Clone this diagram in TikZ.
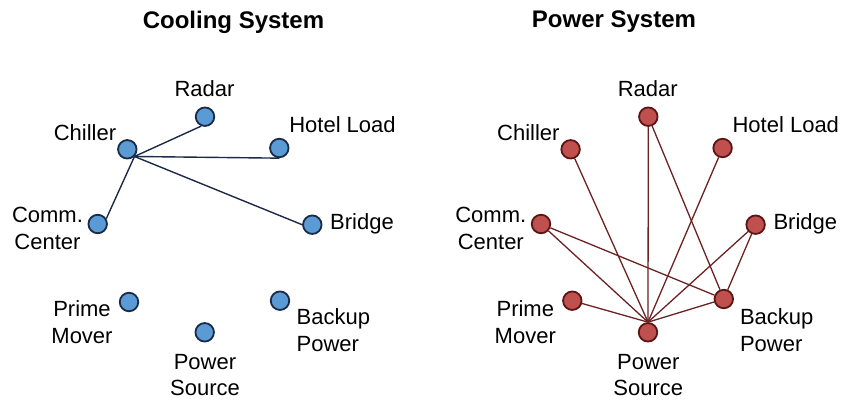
\documentclass[tikz,border=0pt]{standalone}
\usepackage{fontspec}
\setmainfont{Liberation Sans}
\definecolor{bluefill}{HTML}{5B9BD5}
\definecolor{blueedge}{HTML}{1B2A47}
\definecolor{redfill}{HTML}{C0504D}
\definecolor{rededge}{HTML}{5A1515}
\definecolor{redline}{HTML}{6B2222}
\begin{document}
\begin{tikzpicture}[x=1pt,y=-1pt,
  vtx/.style={circle,minimum size=18.5pt,inner sep=0pt,line width=1.8pt},
  bvtx/.style={vtx,draw=blueedge,fill=bluefill},
  rvtx/.style={vtx,draw=rededge,fill=redfill},
  lbl/.style={font=\fontsize{22}{26.5}\selectfont,align=center,inner sep=0pt},
  lbll/.style={lbl,align=left},
  ttl/.style={font=\fontsize{24}{28}\selectfont\bfseries,inner sep=0pt},
  bedge/.style={draw=blueedge,line width=1.4pt},
  redge/.style={draw=redline,line width=1.3pt}]
\useasboundingbox (0,0) rectangle (842,399);

% ---------- Cooling system ----------
\node[ttl] (t1) at (233.5,22) {Cooling System};
\begin{scope}
\node[bvtx] (ra) at (205,116.7) {};
\node[bvtx] (ch) at (127.3,149.3) {};
\node[bvtx] (ho) at (279.3,148) {};
\node[bvtx] (cc) at (97.7,224) {};
\node[bvtx] (br) at (312.3,224.7) {};
\node[bvtx] (pm) at (129,302) {};
\node[bvtx] (bp) at (280,300.7) {};
\node[bvtx] (ps) at (204.7,332.3) {};

\node[lbl] (lra) at (204.5,89) {Radar};
\node[lbl] (lch) at (85,132.5) {Chiller};
\node[lbl] (lho) at (342.5,125) {Hotel Load};
\node[lbl] (lcc) at (47.5,228.5) {Comm.\\Center};
\node[lbl,anchor=west] (lbr) at (330,223.5) {Bridge};
\node[lbl] (lpm) at (82,322) {Prime\\Mover};
\node[lbll,anchor=west] (lbp) at (296.5,330) {Backup\\Power};
\node[lbl] (lps) at (205,375) {Power\\Source};

\draw[bedge] (ch.-45) -- (ra.-112);
\draw[bedge] (ch.-45) -- (ho.south);
\draw[bedge] (ch.-45) -- (br.west);
\draw[bedge] (ch.-45) -- (cc.32);
\end{scope}

% ---------- Power system ----------
\node[ttl] (t2) at (614,22) {Power System};
\begin{scope}[xshift=443.3pt]
\node[rvtx] (ra2) at (205,116.7) {};
\node[rvtx] (ch2) at (127.3,149.3) {};
\node[rvtx] (ho2) at (279.3,148) {};
\node[rvtx] (cc2) at (97.7,224) {};
\node[rvtx] (br2) at (312.3,224.7) {};
\node[rvtx] (pm2) at (129,300.7) {};
\node[rvtx] (bp2) at (280.5,299) {};
\node[rvtx] (ps2) at (204.7,332.3) {};

\node[lbl] (lra2) at (204.5,89) {Radar};
\node[lbl] (lch2) at (85,132.5) {Chiller};
\node[lbl] (lho2) at (342.5,125) {Hotel Load};
\node[lbl] (lcc2) at (47.5,228.5) {Comm.\\Center};
\node[lbl,anchor=west] (lbr2) at (330,223.5) {Bridge};
\node[lbl] (lpm2) at (82,322) {Prime\\Mover};
\node[lbll,anchor=west] (lbp2) at (296.5,330) {Backup\\Power};
\node[lbl] (lps2) at (205,375) {Power\\Source};

\draw[redge] (ps2.north) -- (ch2);
\draw[redge] (ps2.north) -- (ra2);
\draw[redge] (ps2.north) -- (ho2);
\draw[redge] (ps2.north) -- (cc2);
\draw[redge] (ps2.north) -- (br2);
\draw[redge] (ps2.north) -- (bp2);
\draw[redge] (ps2.north) -- (pm2);
\draw[redge] (ra2) -- (bp2);
\draw[redge] (cc2) -- (bp2);
\draw[redge] (br2) -- (bp2);
\end{scope}
\end{tikzpicture}
\end{document}
